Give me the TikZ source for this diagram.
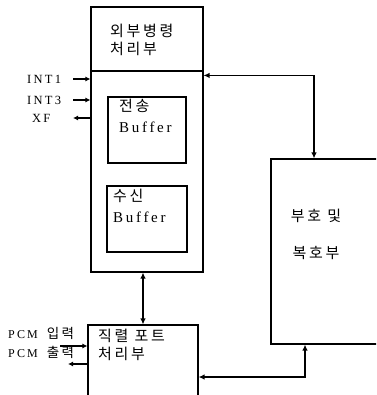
\documentclass[tikz,border=0pt]{standalone}
\usepackage{fontspec}
\setmainfont{Liberation Serif}
\newfontfamily\krf[LetterSpace=18]{Noto Sans CJK KR}
\newfontfamily\lsfont[LetterSpace=18]{Liberation Serif}
\usetikzlibrary{arrows.meta}
\tikzset{
  box/.style={draw, line width=1.1pt, rectangle, inner sep=0pt},
  conn/.style={line width=1.5pt, {Latex[length=6pt,width=5.5pt]}-{Latex[length=6pt,width=5.5pt]}},
  arr/.style={line width=1.1pt, -{Latex[length=5pt,width=5pt]}},
  kt/.style={font={\fontsize{15}{18}\krf}, align=left, inner sep=0pt, anchor=north west},
  lt/.style={font={\fontsize{12.5}{15}\lsfont}, inner sep=0pt, anchor=west},
}
\begin{document}
\begin{tikzpicture}[x=1pt,y=-1pt]
\useasboundingbox (0,0) rectangle (376,395);
\clip (0,0) rectangle (376,395);
% boxes
\node[box, minimum width=112pt, minimum height=64pt] (cmd) at (147,39) {};
\node[box, minimum width=112pt, minimum height=201pt] (lower) at (147,171.5) {};
\node[box, minimum width=78pt, minimum height=66pt] (tx) at (147,130) {};
\node[box, minimum width=80pt, minimum height=66pt] (rx) at (147,219) {};
\node[box, minimum width=110pt, minimum height=185pt] (codec) at (326,251.5) {};
\node[box, minimum width=110pt, minimum height=85pt] (serial) at (143,367.5) {};
% texts
\node[kt] (cmdtxt) at (110,24) {외부병령\\처리부};
\node[kt, font={\fontsize{15}{21}\krf}] (txtxt) at (119,99) {전송\\{\fontsize{15}{21}\lsfont Buffer}};
\node[kt, font={\fontsize{15}{21}\krf}] (rxtxt) at (113,189) {수신\\{\fontsize{15}{21}\lsfont Buffer}};
\node[kt, align=center, anchor=north, font={\fontsize{15}{37}\krf}] (codectxt) at (316,209) {부호 및\\복호부};
\node[kt] (sertxt) at (98,329) {직렬 포트\\처리부};
\node[lt] (int1) at (27,79) {INT1};
\node[lt] (int3) at (27,100) {INT3};
\node[lt] (xf) at (32,118) {XF};
\node[lt, font={\fontsize{12}{15}\lsfont}] (pcmin) at (8,333) {PCM\hspace{9pt}{\fontsize{13.5}{15}\krf 입력}};
\node[lt, font={\fontsize{12}{15}\lsfont}] (pcmout) at (8,352) {PCM\hspace{9pt}{\fontsize{13.5}{15}\krf 출력}};
% side arrows
\coordinate (i1) at (73,79);
\coordinate (i3) at (73,100);
\coordinate (xo) at (73,118);
\coordinate (pin) at (60,346);
\coordinate (pout) at (68,364);
\draw[arr] (i1) -- (i1 -| lower.west);
\draw[arr] (i3) -- (i3 -| lower.west);
\draw[arr] (xo -| lower.west) -- (xo);
\draw[arr] (pin) -- (pin -| serial.west);
\draw[arr] (pout -| serial.west) -- (pout);
% connectors
\draw[conn] ([yshift=-5pt]lower.north east) -| ([xshift=-12pt]codec.north);
\draw[conn] ([xshift=-4pt]lower.south) -- ([xshift=-4pt]lower.south |- serial.north);
\draw[conn] ([xshift=-21pt]codec.south) |- (serial.east |- 0,377);
\end{tikzpicture}
\end{document}
